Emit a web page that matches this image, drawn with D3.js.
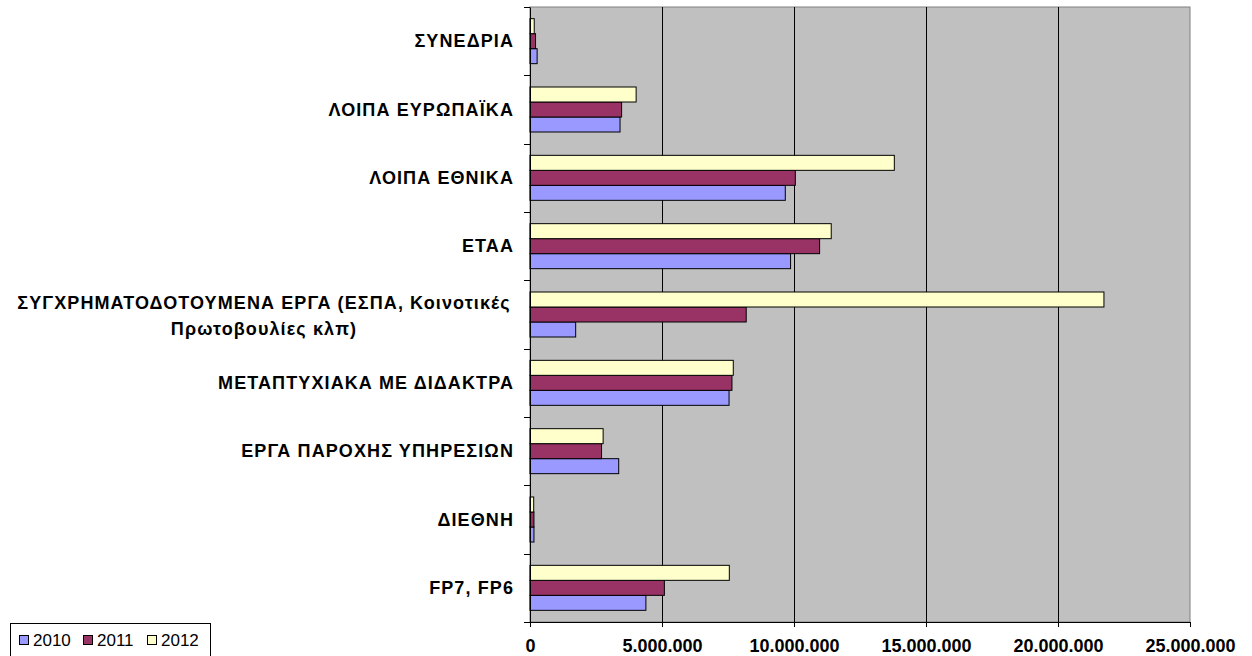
<!DOCTYPE html>
<html><head><meta charset="utf-8">
<script src="https://cdn.jsdelivr.net/npm/d3@7"></script>
<style>body{margin:0;background:#fff}svg{display:block;font-family:"Liberation Sans",Arial,sans-serif}</style>
</head><body><svg id="c" width="1252" height="656"></svg>
<script>
const categories = [
  ["ΣΥΝΕΔΡΙΑ"],
  ["ΛΟΙΠΑ ΕΥΡΩΠΑΪΚΑ"],
  ["ΛΟΙΠΑ ΕΘΝΙΚΑ"],
  ["ΕΤΑΑ"],
  ["ΣΥΓΧΡΗΜΑΤΟΔΟΤΟΥΜΕΝΑ ΕΡΓΑ (ΕΣΠΑ, Κοινοτικές", "Πρωτοβουλίες κλπ)"],
  ["ΜΕΤΑΠΤΥΧΙΑΚΑ ΜΕ ΔΙΔΑΚΤΡΑ"],
  ["ΕΡΓΑ ΠΑΡΟΧΗΣ ΥΠΗΡΕΣΙΩΝ"],
  ["ΔΙΕΘΝΗ"],
  ["FP7, FP6"]
];
const series = ["2010", "2011", "2012"];
const v2010 = [270000, 3410000, 9670000, 9870000, 1730000, 7540000, 3360000, 150000, 4390000];
const v2011 = [210000, 3470000, 10050000, 10970000, 8190000, 7650000, 2710000, 150000, 5090000];
const v2012 = [160000, 4020000, 13800000, 11410000, 21740000, 7700000, 2770000, 140000, 7550000];
const xTicks = [0, 5000000, 10000000, 15000000, 20000000, 25000000];
const xTickLabels = ["0", "5.000.000", "10.000.000", "15.000.000", "20.000.000", "25.000.000"];
const colors = {"2010": "#9999FF", "2011": "#993366", "2012": "#FFFFCC"};

const values = {"2010": v2010, "2011": v2011, "2012": v2012};
const svg = d3.select("#c");
const L = 530, R = 1190, T = 7, B = 622;
const x = d3.scaleLinear().domain([0, 25000000]).range([L, R]);
const keys = categories.map((c, i) => i);
const y = d3.scaleBand().domain(keys).range([T, B]);
const barH = 15;
const ys = d3.scaleBand().domain(["2012", "2011", "2010"])
  .range([(y.bandwidth() - 3 * barH) / 2, (y.bandwidth() + 3 * barH) / 2]);

svg.append("rect").attr("x", L).attr("y", T).attr("width", R - L).attr("height", B - T)
  .attr("fill", "#C0C0C0").attr("stroke", "#808080").attr("stroke-width", 1);

// gridlines
svg.append("g").selectAll("line").data(xTicks.slice(1, -1)).join("line")
  .attr("x1", d => Math.round(x(d)) + 0.5).attr("x2", d => Math.round(x(d)) + 0.5)
  .attr("y1", T).attr("y2", B).attr("stroke", "#000").attr("stroke-width", 1);

// bars
const g = svg.append("g");
categories.forEach((c, i) => {
  series.forEach(s => {
    const v = values[s][i];
    g.append("rect")
      .attr("x", x(0))
      .attr("y", y(i) + ys(s))
      .attr("width", x(v) - x(0))
      .attr("height", ys.bandwidth())
      .attr("fill", colors[s]).attr("stroke", "#000").attr("stroke-width", 1);
  });
});

// y axis
const yAxis = d3.axisLeft(y).tickValues([]).tickSizeOuter(0);
const ya = svg.append("g").attr("transform", `translate(${L},0)`).call(yAxis);
ya.select(".domain").attr("stroke", "#000");
svg.append("g").selectAll("line").data(d3.range(categories.length + 1)).join("line")
  .attr("x1", L - 6).attr("x2", L)
  .attr("y1", i => Math.round(T + i * y.step()) + 0.5).attr("y2", i => Math.round(T + i * y.step()) + 0.5)
  .attr("stroke", "#000");

// y labels
const lab = svg.append("g").attr("font-weight", "bold").attr("font-size", 18)
  .attr("letter-spacing", "1.1px").attr("fill", "#000");
categories.forEach((c, i) => {
  const cy = y(i) + y.bandwidth() / 2;
  if (c.length === 1) {
    lab.append("text").attr("x", 514).attr("y", cy).attr("dy", "0.35em")
      .attr("text-anchor", "end").text(c[0]);
  } else {
    const t = lab.append("text").attr("text-anchor", "middle");
    const lh = 26;
    c.forEach((line, k) => {
      t.append("tspan").attr("x", 264).attr("y", cy + 1 + (k - (c.length - 1) / 2) * lh).attr("dy", "0.35em").text(line);
    });
  }
});

// x axis
const xAxis = d3.axisBottom(x).tickValues(xTicks).tickFormat((d, i) => xTickLabels[i]).tickSize(5).tickSizeOuter(0);
const xa = svg.append("g").attr("transform", `translate(0,${B})`).call(xAxis);
xa.select(".domain").attr("stroke", "#000");
xa.selectAll(".tick line").attr("stroke", "#000");
xa.selectAll(".tick text").attr("font-size", 18).attr("font-weight", "bold")
  .attr("font-family", "Liberation Sans, Arial, sans-serif").attr("fill", "#000")
  .attr("y", 17).attr("dy", "0.71em");

// legend
const lg = svg.append("g");
lg.append("rect").attr("x", 10.5).attr("y", 623.5).attr("width", 200).attr("height", 34)
  .attr("fill", "#fff").attr("stroke", "#000");
series.forEach((s, k) => {
  const lx = 19 + k * 64;
  lg.append("rect").attr("x", lx + 0.5).attr("y", 635.5).attr("width", 9).attr("height", 9)
    .attr("fill", colors[s]).attr("stroke", "#000");
  lg.append("text").attr("x", lx + 14).attr("y", 640).attr("dy", "0.35em")
    .attr("font-size", 17).attr("fill", "#000").text(s);
});
</script></body></html>
